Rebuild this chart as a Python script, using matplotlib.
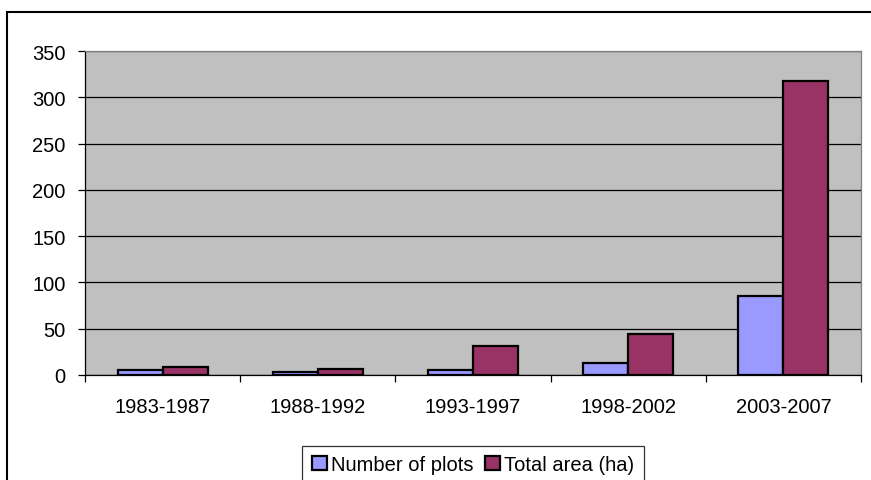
import numpy as np
import matplotlib
matplotlib.use("Agg")
import matplotlib.pyplot as plt
from matplotlib.patches import Rectangle

plt.rcParams['font.family'] = ['Liberation Sans', 'DejaVu Sans']

periods = ['1983-1987', '1988-1992', '1993-1997', '1998-2002', '2003-2007']
n_plots = [5, 3, 5, 13, 85]
total_area = [9, 7, 31, 44, 318]

fig = plt.figure(figsize=(8.71, 4.81), dpi=100)
ax = fig.add_axes([85/871, 105/481, 776/871, 324/481])
ax.set_facecolor('#C0C0C0')

x = np.arange(len(periods))
w = 0.29
ax.bar(x - w/2, n_plots, w, color='#9999FF', edgecolor='black', linewidth=1.6,
       label='Number of plots', zorder=3)
ax.bar(x + w/2, total_area, w, color='#993366', edgecolor='black', linewidth=1.6,
       label='Total area (ha)', zorder=3)

ax.set_xlim(-0.5, len(periods) - 0.5)
ax.set_ylim(0, 350)
ax.set_yticks(np.arange(0, 351, 50))
ax.yaxis.grid(True, color='black', linewidth=0.9, zorder=1)
ax.set_axisbelow(True)

# ticks between categories, labels at centers
ax.set_xticks(x)
ax.set_xticklabels(periods)
ax.set_xticks(np.arange(-0.5, len(periods)), minor=True)
ax.tick_params(axis='x', which='major', length=0, pad=16, labelsize=14.5)
ax.tick_params(axis='x', which='minor', length=5, width=0.9, direction='out')
ax.tick_params(axis='y', length=5, width=0.9, labelsize=14.5, pad=9)

for s in ['top', 'right']:
    ax.spines[s].set_color('#808080')
    ax.spines[s].set_linewidth(0.9)
for s in ['left', 'bottom']:
    ax.spines[s].set_color('black')
    ax.spines[s].set_linewidth(0.9)

leg = fig.legend(loc='upper center', bbox_to_anchor=(473/871, 1 - 447/481),
                 ncol=2, fontsize=14.5, frameon=True, fancybox=False,
                 handlelength=0.75, handleheight=0.75, handletextpad=0.2,
                 columnspacing=0.6, borderpad=0.45, borderaxespad=0)
leg.get_frame().set_edgecolor('black')
leg.get_frame().set_linewidth(0.9)
for h in leg.legend_handles:
    h.set_linewidth(1.6)

# outer chart border (cut off at right and bottom)
fig.patches.append(Rectangle((7/871, -0.2), 1.5, 1 - 13/481 + 0.2,
                             transform=fig.transFigure, fill=False,
                             edgecolor='black', linewidth=1.5))

fig.savefig('out.png', dpi=100)
